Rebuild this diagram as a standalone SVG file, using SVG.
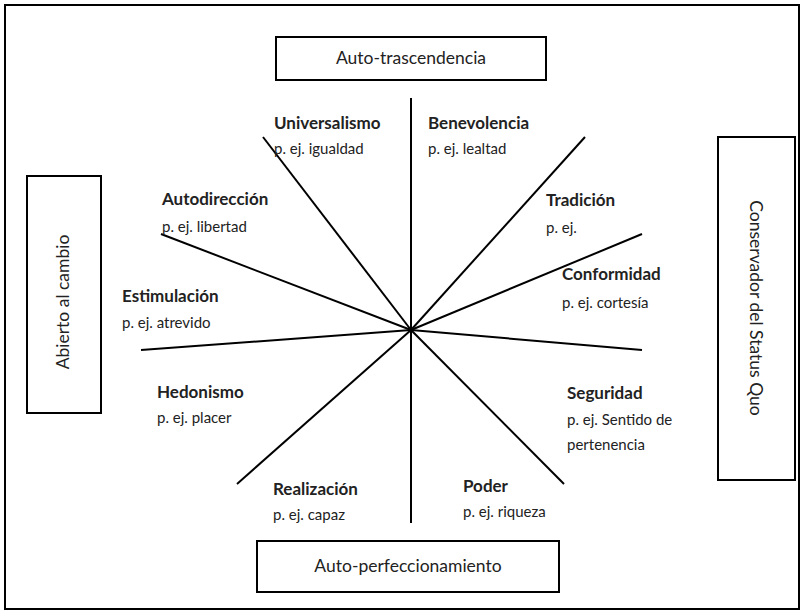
<svg xmlns="http://www.w3.org/2000/svg" width="804" height="614" viewBox="0 0 804 614">
<style>
.box{fill:#fff;stroke:#000;stroke-width:2}
.ln{stroke:#000;stroke-width:2;fill:none}
.t{font-family:Lato,"Open Sans","Liberation Sans",sans-serif;fill:#222}
.b{font-weight:bold;font-size:17px}
.r{font-size:15px}
.bx{font-size:17.5px}
</style>
<rect x="5" y="5" width="794" height="604" fill="#fff" stroke="#000" stroke-width="2"/>
<g id="connectors">
<line class="ln" x1="411" y1="98" x2="411" y2="523"/>
<line class="ln" x1="263" y1="137" x2="411" y2="330"/>
<line class="ln" x1="585" y1="137" x2="411" y2="330"/>
<line class="ln" x1="161" y1="234" x2="411" y2="330"/>
<line class="ln" x1="642" y1="234" x2="411" y2="330"/>
<line class="ln" x1="141" y1="350" x2="411" y2="330"/>
<line class="ln" x1="642" y1="350" x2="411" y2="330"/>
<line class="ln" x1="237" y1="484" x2="411" y2="330"/>
<line class="ln" x1="564" y1="484" x2="411" y2="330"/>
</g>
<g id="auto-trascendencia">
<rect class="box" x="276" y="37" width="270" height="43"/>
<text class="t bx" x="411" y="64" text-anchor="middle">Auto-trascendencia</text>
</g>
<g id="auto-perfeccionamiento">
<rect class="box" x="257" y="541" width="302" height="51"/>
<text class="t bx" x="408" y="572" text-anchor="middle">Auto-perfeccionamiento</text>
</g>
<g id="abierto">
<rect class="box" x="27" y="176" width="74" height="237"/>
<text class="t bx" transform="translate(69,302) rotate(-90)" text-anchor="middle">Abierto al cambio</text>
</g>
<g id="conservador">
<rect class="box" x="718" y="137" width="77" height="343"/>
<text class="t bx" transform="translate(750,308) rotate(90)" text-anchor="middle">Conservador del Status Quo</text>
</g>
<g id="universalismo">
<text class="t b" x="274" y="129">Universalismo</text>
<text class="t r" x="274" y="154">p. ej. igualdad</text>
</g>
<g id="benevolencia">
<text class="t b" x="428" y="129">Benevolencia</text>
<text class="t r" x="428" y="154">p. ej. lealtad</text>
</g>
<g id="autodireccion">
<text class="t b" x="162" y="205">Autodirección</text>
<text class="t r" x="162" y="232">p. ej. libertad</text>
</g>
<g id="tradicion">
<text class="t b" x="546" y="206">Tradición</text>
<text class="t r" x="546" y="233">p. ej.</text>
</g>
<g id="estimulacion">
<text class="t b" x="122" y="302">Estimulación</text>
<text class="t r" x="122" y="328">p. ej. atrevido</text>
</g>
<g id="conformidad">
<text class="t b" x="562" y="280">Conformidad</text>
<text class="t r" x="562" y="308">p. ej. cortesía</text>
</g>
<g id="hedonismo">
<text class="t b" x="157" y="398">Hedonismo</text>
<text class="t r" x="157" y="423">p. ej. placer</text>
</g>
<g id="seguridad">
<text class="t b" x="567" y="399">Seguridad</text>
<text class="t r" x="567" y="425">p. ej. Sentido de</text>
<text class="t r" x="567" y="450">pertenencia</text>
</g>
<g id="realizacion">
<text class="t b" x="273" y="495">Realización</text>
<text class="t r" x="273" y="520">p. ej. capaz</text>
</g>
<g id="poder">
<text class="t b" x="463" y="492">Poder</text>
<text class="t r" x="463" y="517">p. ej. riqueza</text>
</g>
</svg>
